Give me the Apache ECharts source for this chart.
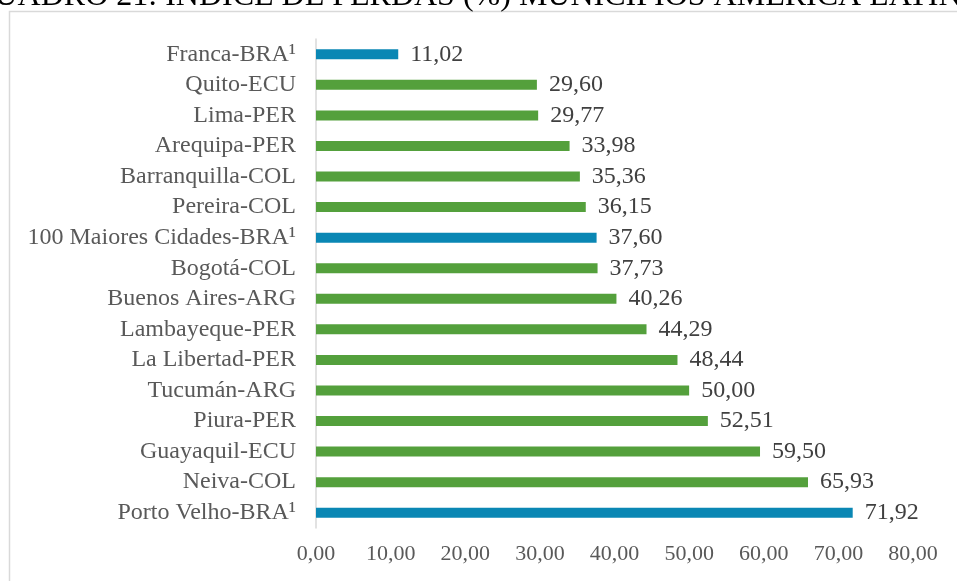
<!DOCTYPE html>
<html>
<head>
<meta charset="utf-8">
<script src="https://cdn.jsdelivr.net/npm/echarts@6/dist/echarts.min.js"></script>
<style>
html,body{margin:0;padding:0;background:#fff;}
#chart{width:957px;height:581px;}
</style>
</head>
<body>
<div id="chart"></div>
<script>
const titleText = 'QUADRO 21: ÍNDICE DE PERDAS (%) MUNICÍPIOS AMÉRICA LATINA';
const categories = ['Franca-BRA¹','Quito-ECU','Lima-PER','Arequipa-PER','Barranquilla-COL','Pereira-COL','100 Maiores Cidades-BRA¹','Bogotá-COL','Buenos Aires-ARG','Lambayeque-PER','La Libertad-PER','Tucumán-ARG','Piura-PER','Guayaquil-ECU','Neiva-COL','Porto Velho-BRA¹'];
const values = [11.02,29.60,29.77,33.98,35.36,36.15,37.60,37.73,40.26,44.29,48.44,50.00,52.51,59.50,65.93,71.92];
const xTicks = [0,10,20,30,40,50,60,70,80];

const BLUE = '#0a87b4', GREEN = '#54a03c';
const fmt = v => Number(v).toFixed(2).replace('.', ',');
const font = 'Liberation Serif, Times New Roman, serif';

const chart = echarts.init(document.getElementById('chart'));
chart.setOption({
  animation: false,
  graphic: [
    {type:'rect', shape:{x:9.5, y:11.5, width:1000, height:1000}, style:{fill:'none', stroke:'#d9d9d9', lineWidth:1.5}, z:0},
    {type:'text', x:478, y:13, style:{text:titleText, font:'32px ' + font, fill:'#000', textAlign:'center', textVerticalAlign:'bottom'}, z:10}
  ],
  grid: {left:316, top:39, width:597, height:489, containLabel:false},
  xAxis: {
    type:'value', min:xTicks[0], max:xTicks[xTicks.length-1], interval:10,
    axisLine:{show:false}, axisTick:{show:false}, splitLine:{show:false},
    axisLabel:{formatter:fmt, fontFamily:font, fontSize:22, color:'#595959', margin:15}
  },
  yAxis: {
    type:'category', data:categories, inverse:true,
    axisLine:{show:true, lineStyle:{color:'#d9d9d9', width:1.5}},
    axisTick:{show:false},
    axisLabel:{interval:0, fontFamily:font, fontSize:24, color:'#595959', margin:20}
  },
  series: [{
    type:'bar', barWidth:10,
    data: values.map((v,i)=>({value:v, itemStyle:{color: categories[i].includes('BRA') ? BLUE : GREEN}})),
    label:{show:true, position:'right', distance:12, formatter:p=>fmt(p.value), fontFamily:font, fontSize:24, color:'#404040'}
  }]
});
</script>
</body>
</html>
